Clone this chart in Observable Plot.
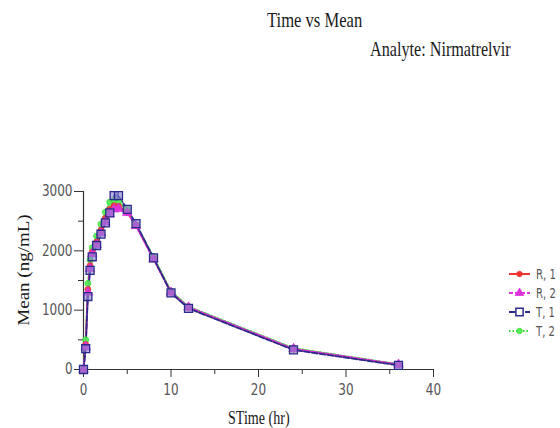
<!DOCTYPE html>
<html>
<head>
<meta charset="utf-8">
<script src="https://cdn.jsdelivr.net/npm/d3@7"></script>
<script src="https://cdn.jsdelivr.net/npm/@observablehq/plot@0.6"></script>
<style>
  body { margin: 0; background: #fff; }
  #wrap { position: relative; width: 560px; height: 428px; overflow: hidden; }
  .ttl { position: absolute; font-family: "Liberation Serif", serif; color: #1a1a1a; white-space: nowrap; line-height: 1; }
  .leg { position: absolute; font-family: "DejaVu Sans", sans-serif; font-size: 14px; color: #555; display: flex; align-items: center; white-space: nowrap; }
  .leg span { display: inline-block; transform: scaleX(0.72); transform-origin: left center; }
</style>
</head>
<body>
<div id="wrap"></div>
<script>
const title = "Time vs Mean";
const subtitle = "Analyte: Nirmatrelvir";
const xLabel = "STime (hr)";
const yLabel = "Mean (ng/mL)";
const times = [0, 0.25, 0.5, 0.75, 1, 1.5, 2, 2.5, 3, 3.5, 4, 5, 6, 8, 10, 12, 24, 36];
const seriesNames = ["R, 1", "R, 2", "T, 1", "T, 2"];
const r1 = [0, 420, 1350, 1750, 1980, 2150, 2350, 2550, 2700, 2760, 2750, 2650, 2430, 1870, 1300, 1040, 340, 80];
const r2 = [0, 380, 1300, 1700, 1950, 2100, 2300, 2480, 2620, 2700, 2710, 2640, 2420, 1860, 1300, 1050, 350, 85];
const t1 = [0, 350, 1230, 1670, 1900, 2090, 2280, 2470, 2640, 2930, 2930, 2700, 2460, 1880, 1290, 1030, 330, 70];
const t2 = [0, 500, 1450, 1850, 2050, 2250, 2450, 2650, 2820, 2860, 2830, 2700, 2440, 1900, 1320, 1060, 360, 90];
const xTicks = [0, 10, 20, 30, 40];
const xMinor = [5, 15, 25, 35];
const yTicks = [0, 1000, 2000, 3000];
const yMinor = [500, 1500, 2500];

const styles = {
  "R, 1": {color: "#ee3333", dash: null, symbol: "circle", fill: "#ee3333", r: 3},
  "R, 2": {color: "#dd33dd", dash: "4,2", symbol: "triangle", fill: "#dd33dd", r: 3.5},
  "T, 1": {color: "#2a2a8c", dash: "6,2", symbol: "square", fill: "#8a80d0", r: 4.5},
  "T, 2": {color: "#33dd33", dash: "1.5,2", symbol: "circle", fill: "#55ee55", r: 3}
};
const values = {"R, 1": r1, "R, 2": r2, "T, 1": t1, "T, 2": t2};
const drawOrder = ["T, 2", "R, 1", "R, 2", "T, 1"];
const table = drawOrder.flatMap(s => times.map((t, i) => ({series: s, time: t, mean: values[s][i]})));

const marks = [];
for (const s of drawOrder) {
  const st = styles[s];
  const d = table.filter(r => r.series === s);
  marks.push(Plot.line(d, {x: "time", y: "mean", stroke: st.color, strokeWidth: 1.8, strokeDasharray: st.dash}));
}
for (const s of drawOrder) {
  const st = styles[s];
  const d = table.filter(r => r.series === s);
  marks.push(Plot.dot(d, {x: "time", y: "mean", symbol: () => st.symbol, r: st.r, fill: st.fill, fillOpacity: s === "T, 1" ? 0.6 : 0.9, stroke: st.color, strokeWidth: s === "T, 1" ? 1.3 : 0.8}));
}

const chart = Plot.plot({
  width: 560,
  height: 428,
  marginLeft: 83,
  marginRight: 127,
  marginTop: 191,
  marginBottom: 59,
  style: {fontFamily: "DejaVu Sans, sans-serif", fontSize: "15px", color: "#444", background: "#fff"},
  x: {domain: [0, 40]},
  y: {domain: [0, 3000]},
  symbol: {type: "identity"},
  marks: [
    Plot.ruleY([0], {stroke: "#333", strokeWidth: 1.2}),
    Plot.ruleX([0], {stroke: "#333", strokeWidth: 1.2}),
    Plot.axisX({ticks: xTicks, tickSize: 8, tickPadding: 7, tickFormat: d => String(d), label: null, stroke: "#333", fill: "#555", fontSize: 15}),
    Plot.axisX({ticks: xMinor, tickSize: 5, tickFormat: () => "", label: null, stroke: "#333"}),
    Plot.axisY({ticks: yTicks, tickSize: 9, tickPadding: 2, tickFormat: d => String(d), label: null, stroke: "#333", fill: "#555", fontSize: 15}),
    Plot.axisY({ticks: yMinor, tickSize: 5, tickFormat: () => "", label: null, stroke: "#333"}),
    ...marks
  ]
});

const wrap = document.getElementById("wrap");
wrap.appendChild(chart);

// the reference image is horizontally compressed: squeeze the tick labels
chart.querySelectorAll("text").forEach(t => {
  if (!t.textContent) return;
  const len = t.getComputedTextLength();
  if (len > 0) {
    t.setAttribute("textLength", (len * 0.8).toFixed(1));
    t.setAttribute("lengthAdjust", "spacingAndGlyphs");
  }
});

function addText(txt, left, top, size, sx, extra) {
  const el = document.createElement("div");
  el.className = "ttl";
  el.textContent = txt;
  Object.assign(el.style, {left: left + "px", top: top + "px", fontSize: size + "px", transform: `scaleX(${sx})`, transformOrigin: "left top"}, extra || {});
  wrap.appendChild(el);
  return el;
}
addText(title, 267, 10, 21, 0.79);
addText(subtitle, 370, 39, 21, 0.77);
addText(xLabel, 228, 408, 19, 0.74);
const yl = document.createElement("div");
yl.className = "ttl";
yl.textContent = yLabel;
Object.assign(yl.style, {left: "23px", top: "270px", fontSize: "19px", transform: "translate(-50%,-50%) rotate(-90deg) scaleY(0.85)"});
wrap.appendChild(yl);

const legY = [274, 293, 312, 331];
seriesNames.forEach((s, i) => {
  const st = styles[s];
  const div = document.createElement("div");
  div.className = "leg";
  Object.assign(div.style, {left: "508px", top: (legY[i] - 8) + "px", height: "16px", width: "50px"});
  const ns = "http://www.w3.org/2000/svg";
  const svg = document.createElementNS(ns, "svg");
  svg.setAttribute("width", "26"); svg.setAttribute("height", "12");
  svg.style.marginRight = "2px";
  svg.style.flex = "none";
  const ln = document.createElementNS(ns, "line");
  ln.setAttribute("x1", "1"); ln.setAttribute("x2", "22"); ln.setAttribute("y1", "6"); ln.setAttribute("y2", "6");
  ln.setAttribute("stroke", st.color); ln.setAttribute("stroke-width", "2");
  if (st.dash) ln.setAttribute("stroke-dasharray", st.dash);
  svg.appendChild(ln);
  const sym = document.createElementNS(ns, "path");
  const type = st.symbol === "square" ? d3.symbolSquare : st.symbol === "triangle" ? d3.symbolTriangle : d3.symbolCircle;
  sym.setAttribute("d", d3.symbol(type, st.r * st.r * 2.6)());
  sym.setAttribute("transform", "translate(11.5,6)");
  sym.setAttribute("fill", st.symbol === "square" ? "#fff" : st.fill);
  sym.setAttribute("stroke", st.color);
  sym.setAttribute("stroke-width", st.symbol === "square" ? "1.5" : "0.8");
  svg.appendChild(sym);
  div.appendChild(svg);
  const sp = document.createElement("span");
  sp.textContent = s;
  div.appendChild(sp);
  wrap.appendChild(div);
});
</script>
</body>
</html>
